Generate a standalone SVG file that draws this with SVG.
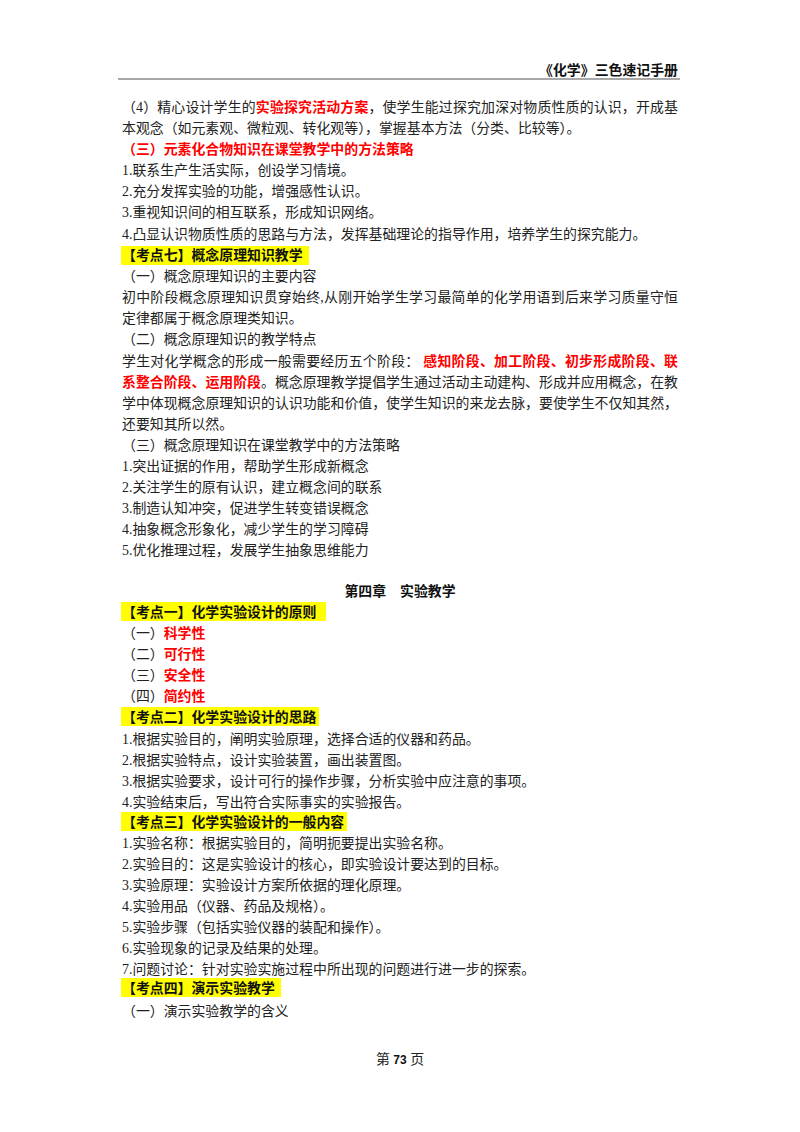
<svg xmlns="http://www.w3.org/2000/svg" width="800" height="1132" viewBox="0 0 800 1132">
<style>
text{font-family:"Liberation Serif","Noto Sans CJK SC",serif;font-size:13.9px;fill:#222}
.b{font-family:"Liberation Sans","Noto Sans CJK SC",sans-serif;font-weight:bold;fill:#111}
.r{font-family:"Liberation Sans","Noto Sans CJK SC",sans-serif;font-weight:bold;fill:#ff0000}
.hl{fill:#ffff00}
</style>
<rect width="800" height="1132" fill="#fff"/>
<text x="678" y="75" text-anchor="end" class="b" font-size="15">《化学》三色速记手册</text>
<line x1="118" y1="79" x2="680" y2="79" stroke="#555" stroke-width="1.2"/>
<rect class="hl" x="121" y="246" width="188" height="19"/>
<rect class="hl" x="121" y="602" width="205" height="19"/>
<rect class="hl" x="121" y="707" width="198" height="19"/>
<rect class="hl" x="121" y="812" width="226" height="19"/>
<rect class="hl" x="121" y="978" width="160" height="19"/>
<g>
<text x="122" y="112" textLength="556" lengthAdjust="spacing">（4）精心设计学生的<tspan class="r">实验探究活动方案</tspan>，使学生能过探究加深对物质性质的认识，开成基</text>
<text x="122" y="133">本观念（如元素观、微粒观、转化观等），掌握基本方法（分类、比较等）。</text>
<text x="122" y="154" class="r">（三）元素化合物知识在课堂教学中的方法策略</text>
<text x="122" y="175">1.联系生产生活实际，创设学习情境。</text>
<text x="122" y="196">2.充分发挥实验的功能，增强感性认识。</text>
<text x="122" y="217">3.重视知识间的相互联系，形成知识网络。</text>
<text x="122" y="239">4.凸显认识物质性质的思路与方法，发挥基础理论的指导作用，培养学生的探究能力。</text>
<text x="122" y="260" class="b">【考点七】概念原理知识教学</text>
<text x="122" y="281">（一）概念原理知识的主要内容</text>
<text x="122" y="302" textLength="556" lengthAdjust="spacing">初中阶段概念原理知识贯穿始终,从刚开始学生学习最简单的化学用语到后来学习质量守恒</text>
<text x="122" y="323">定律都属于概念原理类知识。</text>
<text x="122" y="344">（二）概念原理知识的教学特点</text>
<text x="122" y="366" textLength="556" lengthAdjust="spacing">学生对化学概念的形成一般需要经历五个阶段： <tspan class="r">感知阶段、加工阶段、初步形成阶段、联</tspan></text>
<text x="122" y="387" textLength="556" lengthAdjust="spacing"><tspan class="r">系整合阶段、运用阶段</tspan>。概念原理教学提倡学生通过活动主动建构、形成并应用概念，在教</text>
<text x="122" y="408" textLength="556" lengthAdjust="spacing">学中体现概念原理知识的认识功能和价值，使学生知识的来龙去脉，要使学生不仅知其然，</text>
<text x="122" y="429">还要知其所以然。</text>
<text x="122" y="450">（三）概念原理知识在课堂教学中的方法策略</text>
<text x="122" y="471">1.突出证据的作用，帮助学生形成新概念</text>
<text x="122" y="492">2.关注学生的原有认识，建立概念间的联系</text>
<text x="122" y="513">3.制造认知冲突，促进学生转变错误概念</text>
<text x="122" y="534">4.抽象概念形象化，减少学生的学习障碍</text>
<text x="122" y="555">5.优化推理过程，发展学生抽象思维能力</text>
<text x="400" y="596" text-anchor="middle" class="b" font-size="15">第四章　实验教学</text>
<text x="122" y="617" class="b">【考点一】化学实验设计的原则</text>
<text x="122" y="638">（一）<tspan class="r">科学性</tspan></text>
<text x="122" y="659">（二）<tspan class="r">可行性</tspan></text>
<text x="122" y="680">（三）<tspan class="r">安全性</tspan></text>
<text x="122" y="701">（四）<tspan class="r">简约性</tspan></text>
<text x="122" y="722" class="b">【考点二】化学实验设计的思路</text>
<text x="122" y="744">1.根据实验目的，阐明实验原理，选择合适的仪器和药品。</text>
<text x="122" y="765">2.根据实验特点，设计实验装置，画出装置图。</text>
<text x="122" y="786">3.根据实验要求，设计可行的操作步骤，分析实验中应注意的事项。</text>
<text x="122" y="807">4.实验结束后，写出符合实际事实的实验报告。</text>
<text x="122" y="827" class="b">【考点三】化学实验设计的一般内容</text>
<text x="122" y="848">1.实验名称：根据实验目的，简明扼要提出实验名称。</text>
<text x="122" y="869">2.实验目的：这是实验设计的核心，即实验设计要达到的目标。</text>
<text x="122" y="890">3.实验原理：实验设计方案所依据的理化原理。</text>
<text x="122" y="911">4.实验用品（仪器、药品及规格）。</text>
<text x="122" y="932">5.实验步骤（包括实验仪器的装配和操作）。</text>
<text x="122" y="953">6.实验现象的记录及结果的处理。</text>
<text x="122" y="974">7.问题讨论：针对实验实施过程中所出现的问题进行进一步的探索。</text>
<text x="122" y="993" class="b">【考点四】演示实验教学</text>
<text x="122" y="1016">（一）演示实验教学的含义</text>
<text x="400" y="1064" text-anchor="middle" font-size="12">第 <tspan class="b" font-size="12">73</tspan> 页</text>
</g>
</svg>
